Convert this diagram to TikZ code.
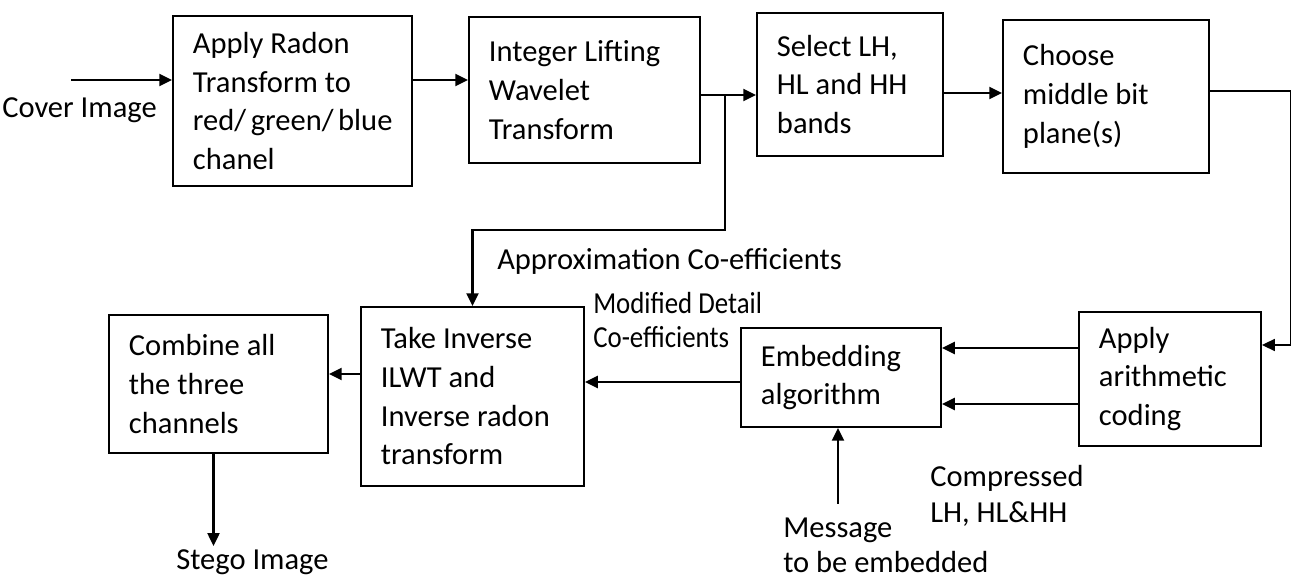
\documentclass[tikz,border=0pt]{standalone}
\usepackage{fontspec}
\setmainfont{Carlito}
\newfontfamily\narrowfont{Carlito}[FakeStretch=0.88]
\usetikzlibrary{arrows.meta,calc}

\begin{document}
\begin{tikzpicture}[x=0.025cm,y=-0.025cm,
    block/.style={draw,line width=1.3pt,inner xsep=0.5cm,inner ysep=0pt,align=flush left,
        font=\fontsize{21.7}{27.5}\selectfont},
    lbl/.style={inner sep=0pt,align=flush left,font=\fontsize{21.7}{25}\selectfont},
    arr/.style={-{Triangle[length=0.32cm,width=0.3cm]},line width=1.5pt}]
    \useasboundingbox (0,0) rectangle (1291,576);
    % Draw the blocks
    \node[block,text width=4.975cm,minimum height=4.25cm] (radon) at (292.5,101)
        {Apply Radon\\Transform to\\red/~green/~blue\\chanel};
    \node[block,text width=4.775cm,minimum height=3.65cm] (ilwt) at (584.5,90)
        {Integer~Lifting\\Wavelet\\Transform};
    \node[block,text width=3.65cm,minimum height=3.575cm] (select) at (850,84.5)
        {Select~LH,\\HL~and~HH\\bands};
    \node[block,text width=4.15cm,minimum height=3.825cm] (choose) at (1106,96.5)
        {Choose\\middle~bit\\plane(s)};
    \node[block,text width=3.55cm,minimum height=3.35cm] (arith) at (1170,379)
        {Apply\\arithmetic\\coding};
    \node[block,text width=4cm,minimum height=2.475cm] (embed) at (841,377.5)
        {Embedding\\algorithm};
    \node[block,text width=4.575cm,minimum height=4.475cm] (inverse) at (472.5,396.5)
        {Take~Inverse\\ILWT~and\\Inverse~radon\\transform};
    \node[block,text width=4.475cm,minimum height=3.45cm] (combine) at (218.5,384)
        {Combine~all\\the~three\\channels};

    % Labels (base = last line)
    \node[lbl,anchor=base west] (cover) at (2,118) {Cover Image};
    \node[lbl,anchor=base west] (approx) at (497,270) {Approximation Co-efficients};
    \node[lbl,anchor=base west,font=\narrowfont\fontsize{21.7}{24.8}\selectfont] (modified) at (593,348)
        {Modified Detail\\Co-efficients};
    \node[lbl,anchor=base west,font=\fontsize{21.7}{26.2}\selectfont] (compressed) at (930,523)
        {Compressed\\LH, HL\&HH};
    \node[lbl,anchor=base west] (message) at (783,573) {Message\\to be embedded};
    \node[lbl,anchor=base west] (stego) at (176,570) {Stego Image};

    \coordinate (cin) at (71,80);
    \coordinate (msgin) at (838,504);

    % Forward path
    \draw[arr] (cin) -- (cin -| radon.west);
    \draw[arr] (cin -| radon.east) -- (cin -| ilwt.west);
    \draw[arr] ($(ilwt.east)+(0,5)$) coordinate (i2) -- (i2 -| select.west);
    \draw[arr] ($(select.east)+(0,8.5)$) coordinate (s2) -- (s2 -| choose.west);
    % approximation branch
    \coordinate (split) at ($(ilwt.east)+(24,5)$);
    \draw[arr] (split) -- ++(0,135) -| (inverse.north);
    % round the right edge
    \draw[-{Triangle[length=0.32cm,width=0.3cm]},line width=0.8pt]
        ($(choose.east)+(0,-5.5)$) -- ++(81,0) |- ($(arith.east)+(0,-34)$);

    % Return path
    \draw[arr] ($(arith.west)+(0,-31)$) coordinate (a1) -- (a1 -| embed.east);
    \draw[arr] ($(arith.west)+(0,25)$) coordinate (a2) -- (a2 -| embed.east);
    \draw[arr] (msgin) -- (msgin |- embed.south);
    \draw[arr] ($(embed.west)+(0,4.5)$) coordinate (e1) -- (e1 -| inverse.east);
    \draw[arr] ($(inverse.west)+(0,-22.5)$) coordinate (v1) -- (v1 -| combine.east);
    \draw[arr] ($(combine.south)+(-5,0)$) -- ++(0,92);
\end{tikzpicture}
\end{document}
